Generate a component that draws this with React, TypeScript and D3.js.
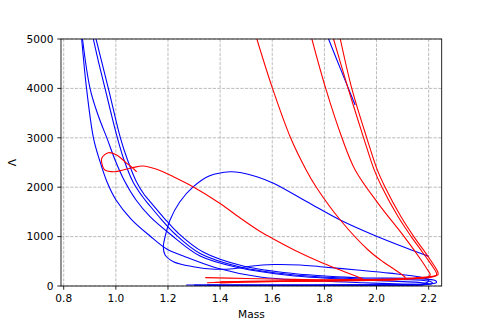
import React from 'react';
import * as d3 from 'd3';

type Pt = [number, number];

// tick values
const xTicks = [0.8, 1.0, 1.2, 1.4, 1.6, 1.8, 2.0, 2.2];
const yTicks = [0, 1000, 2000, 3000, 4000, 5000];

// blue curves: [mass, lambda]
const blueA: Pt[] = [[0.869, 5000], [0.8875, 4002], [0.9144, 2989], [0.9374, 2550], [0.9662, 2105], [1.0007, 1741], [1.0584, 1356], [1.1312, 1012], [1.1953, 749], [1.259, 607], [1.3872, 364], [1.5534, 182], [1.7837, 101], [1.95, 65], [2.1, 40], [2.19, 25], [2.15, 15], [1.9, 10], [1.6, 9], [1.4, 11]];
const blueB: Pt[] = [[0.8721, 5000], [0.9009, 4002], [0.9316, 3461], [0.9662, 2989], [0.997, 2550], [1.0314, 2146], [1.0775, 1741], [1.1312, 1403], [1.208, 1053], [1.3232, 607], [1.4768, 364], [1.6687, 213], [1.899, 132], [2.1677, 71], [2.2, 45], [2.17, 25], [2.0, 16], [1.7, 13], [1.45, 14]];
const blueC: Pt[] = [[0.9136, 5000], [0.9355, 4493], [0.9585, 4002], [0.9815, 3502], [1.0065, 2989], [1.0314, 2550], [1.066, 2105], [1.1005, 1822], [1.1312, 1619], [1.1734, 1356], [1.2272, 1052], [1.3232, 658], [1.4768, 385], [1.6687, 233], [1.899, 152], [2.2061, 91], [2.215, 55], [2.18, 30], [2.0, 20], [1.7, 15], [1.3, 18]];
const blueD: Pt[] = [[0.924, 5000], [0.9712, 4002], [1.018, 2989], [1.0449, 2550], [1.0794, 2105], [1.1101, 1842], [1.1312, 1710], [1.185, 1376], [1.2387, 1073], [1.3347, 688], [1.4883, 405], [1.6802, 253], [1.9105, 172], [2.2253, 111], [2.23, 70], [2.2, 40], [2.0, 25], [1.6, 20], [1.27, 20]];
const blueTop: Pt[] = [[1.816, 5000], [1.861, 4406], [1.918, 3663]];
const blueLoop: Pt[] = [[2.2, 600], [2.1167, 763], [1.9885, 1032], [1.8606, 1336], [1.7328, 1706], [1.6046, 2079], [1.5409, 2212], [1.4768, 2297], [1.4384, 2313], [1.36, 2230], [1.2975, 2010], [1.245, 1700], [1.208, 1336], [1.189, 998], [1.182, 795], [1.189, 627], [1.221, 492], [1.297, 391], [1.38, 340], [1.45, 350], [1.515, 400], [1.605, 435], [1.707, 425], [1.784, 391], [1.925, 324], [2.05, 260], [2.168, 180], [2.2, 120], [2.19, 60], [2.1, 30], [1.9, 18], [1.6, 15], [1.35, 18]];

// red curves
const redL: Pt[] = [[1.08, 2310], [1.064, 2394], [1.042, 2483], [1.003, 2651], [0.971, 2698], [0.946, 2585], [0.95, 2415], [0.958, 2348], [0.996, 2314], [1.028, 2348], [1.064, 2394], [1.1044, 2429], [1.157, 2362], [1.2207, 2212], [1.2975, 2004], [1.4, 1670], [1.4768, 1376], [1.5536, 1103], [1.6046, 951], [1.688, 719], [1.784, 486], [1.8608, 324], [1.9249, 192], [1.9453, 152], [1.92, 135], [1.8, 128], [1.65, 138], [1.5, 152], [1.343, 170]];
const red1: Pt[] = [[1.541, 5000], [1.601, 4000], [1.671, 2990], [1.73, 2350], [1.769, 2000], [1.861, 1336], [1.968, 729], [2.026, 486], [2.072, 324], [2.099, 223], [2.11, 170], [2.1, 140], [2.0, 115], [1.8, 100], [1.6, 90], [1.45, 80], [1.35, 65]];
const red2: Pt[] = [[1.752, 5000], [1.805, 4000], [1.868, 2990], [1.918, 2350], [2.006, 1674], [2.106, 1000], [2.171, 526], [2.196, 324], [2.206, 230], [2.2, 190], [2.17, 160], [2.1, 140], [1.9, 110], [1.7, 95], [1.5, 80], [1.4, 60]];
const red3: Pt[] = [[1.835, 5000], [1.891, 4000], [1.951, 2990], [1.991, 2350], [2.02, 2010], [2.083, 1400], [2.133, 1000], [2.17, 730], [2.198, 525], [2.219, 365], [2.23, 260], [2.229, 210], [2.21, 180], [2.1, 140], [1.9, 115], [1.7, 100], [1.5, 85], [1.38, 75]];
const red4: Pt[] = [[1.861, 5000], [1.905, 4000], [1.963, 2990], [2.003, 2350], [2.032, 2010], [2.094, 1400], [2.143, 1000], [2.18, 730], [2.207, 525], [2.227, 365], [2.236, 270], [2.235, 225], [2.215, 195], [2.1, 150], [1.9, 125], [1.7, 110], [1.5, 95], [1.4, 85]];

const blueCurves = [blueA, blueB, blueC, blueD, blueTop, blueLoop];
const redCurves = [redL, red1, red2, red3, red4];

const W = 491;
const H = 327;
const margin = { top: 39, right: 49.3, bottom: 41, left: 61 };
const FONT = 'DejaVu Sans, sans-serif';

export default function App() {
  const x = d3.scaleLinear().domain([0.7896, 2.25]).range([margin.left, W - margin.right]);
  const y = d3.scaleLinear().domain([0, 5000]).range([H - margin.bottom, margin.top]);

  const line = d3.line<Pt>()
    .x(d => x(d[0]))
    .y(d => y(d[1]))
    .curve(d3.curveCatmullRom.alpha(0.5));

  const [x0, x1] = x.range();
  const [y0, y1] = y.range();

  return (
    <svg width={W} height={H} style={{ position: 'absolute', left: 0, top: 0, background: '#fff' }}>
      <defs>
        <clipPath id="plot">
          <rect x={x0} y={y1} width={x1 - x0} height={y0 - y1} />
        </clipPath>
      </defs>

      {/* grid */}
      <g stroke="#b0b0b0" strokeWidth={0.85} strokeDasharray="3.2,1.4">
        {xTicks.map(t => <line key={'gx' + t} x1={x(t)} x2={x(t)} y1={y0} y2={y1} />)}
        {yTicks.map(t => <line key={'gy' + t} x1={x0} x2={x1} y1={y(t)} y2={y(t)} />)}
      </g>

      {/* curves */}
      <g clipPath="url(#plot)" fill="none" strokeWidth={1.1}>
        {blueCurves.map((c, i) => <path key={'b' + i} d={line(c) || ''} stroke="#0000ff" />)}
        {redCurves.map((c, i) => <path key={'r' + i} d={line(c) || ''} stroke="#ff0000" />)}
      </g>

      {/* frame */}
      <rect x={x0} y={y1} width={x1 - x0} height={y0 - y1} fill="none" stroke="#000" strokeWidth={0.85} />

      {/* axes */}
      <g fontFamily={FONT} fontSize={10.6} fill="#000">
        {xTicks.map(t => (
          <g key={'xt' + t}>
            <line x1={x(t)} x2={x(t)} y1={y0} y2={y0 + 3.7} stroke="#000" strokeWidth={0.85} />
            <text x={x(t)} y={y0 + 16} textAnchor="middle">{t.toFixed(1)}</text>
          </g>
        ))}
        {yTicks.map(t => (
          <g key={'yt' + t}>
            <line x1={x0} x2={x0 - 3.7} y1={y(t)} y2={y(t)} stroke="#000" strokeWidth={0.85} />
            <text x={x0 - 7.5} y={y(t)} dy="0.36em" textAnchor="end">{t}</text>
          </g>
        ))}
        <text x={(x0 + x1) / 2} y={318} textAnchor="middle">Mass</text>
        <text transform={`translate(16,${(y0 + y1) / 2}) rotate(-90)`} textAnchor="middle">Λ</text>
      </g>
    </svg>
  );
}
